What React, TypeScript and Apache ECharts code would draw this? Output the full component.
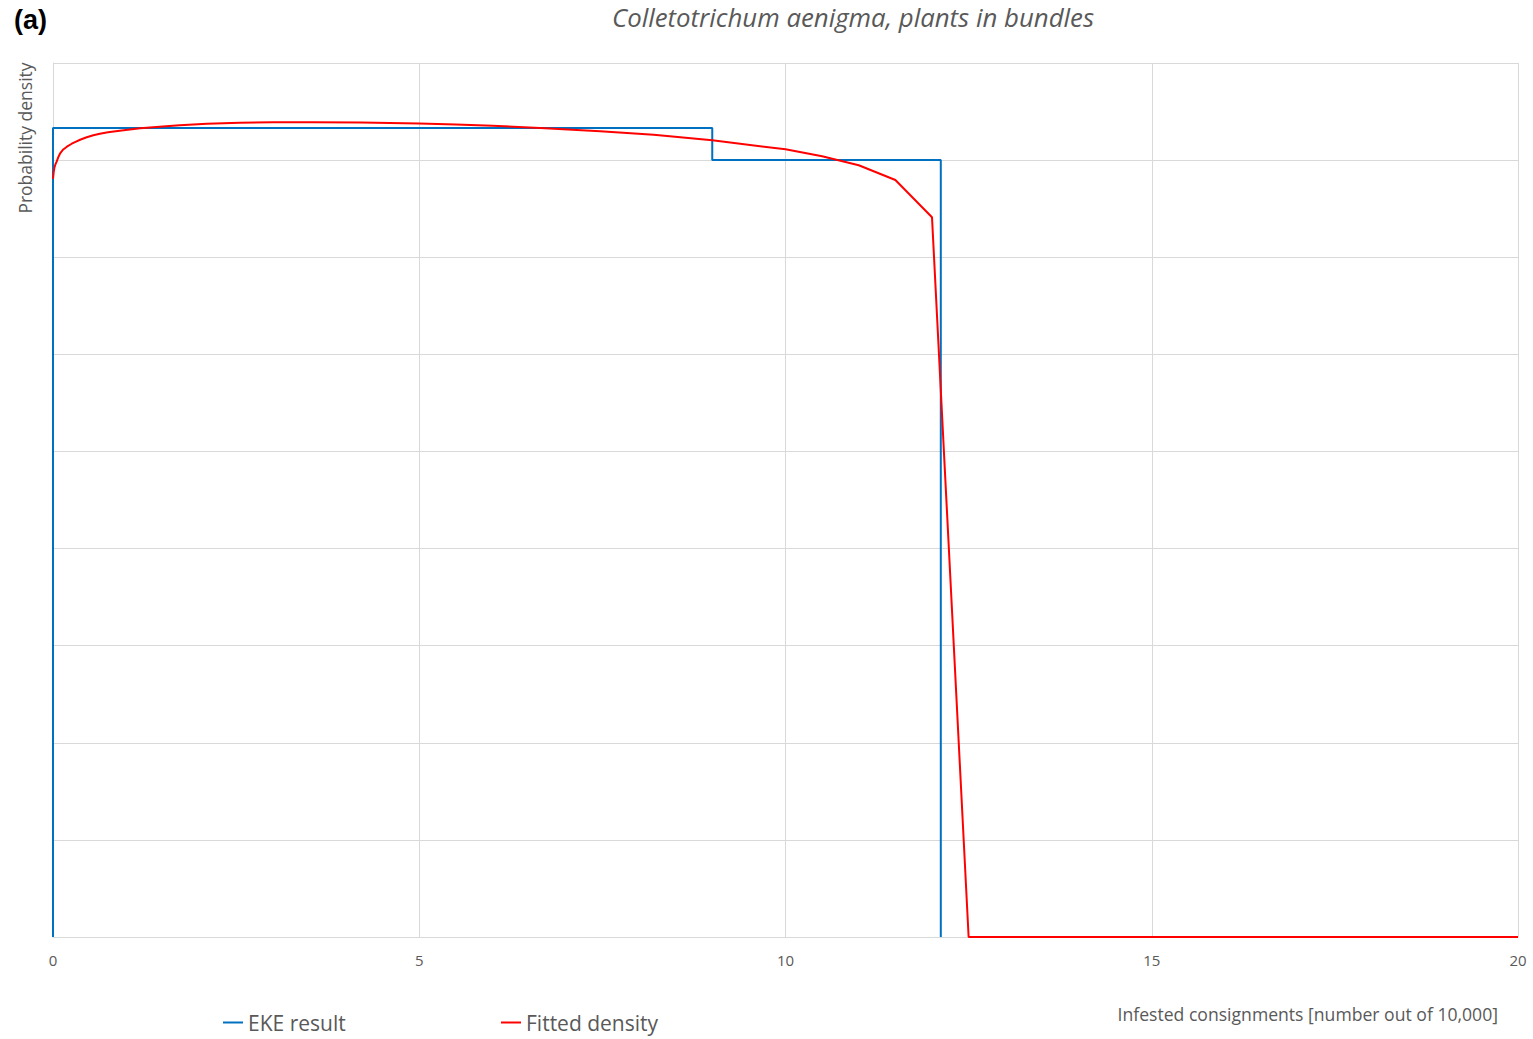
import React, { useEffect, useRef } from "react";
import * as echarts from "echarts";

const titleText = "Colletotrichum aenigma, plants in bundles";
const panelLabel = "(a)";
const yAxisName = "Probability density";
const xAxisName = "Infested consignments [number out of 10,000]";
const seriesNames = ["EKE result", "Fitted density"];

// EKE result step function: [x, density]
const ekeX = [0, 0, 9, 9, 12.12, 12.12];
const ekeY = [0, 8.33, 8.33, 8.0, 8.0, 0];

// Fitted density curve: [x, density]
const fitX = [0, 0.01, 0.02, 0.035, 0.05, 0.075, 0.1, 0.14, 0.19, 0.25, 0.3, 0.37, 0.45, 0.55, 0.64, 0.75, 0.91, 1.05, 1.19, 1.5, 1.73, 2.1, 2.55, 3.0, 3.55, 4.2, 5, 5.5, 6, 6.65, 7.47, 8.2, 9, 10, 10.5, 11, 11.5, 12, 12.5, 20];
const fitY = [7.806, 7.88, 7.925, 7.96, 7.984, 8.035, 8.073, 8.11, 8.138, 8.166, 8.186, 8.21, 8.233, 8.256, 8.272, 8.286, 8.302, 8.315, 8.327, 8.347, 8.36, 8.374, 8.384, 8.389, 8.391, 8.387, 8.376, 8.366, 8.354, 8.331, 8.297, 8.26, 8.205, 8.111, 8.04, 7.947, 7.795, 7.411, 0, 0];

const xMin = 0;
const xMax = 20;
const xInterval = 5;
const yMin = 0;
const yMax = 9;
const yInterval = 1;

export default function App() {
  const ref = useRef<HTMLDivElement>(null);
  useEffect(() => {
    document.body.style.margin = "0";
    if (!ref.current) return;
    const chart = echarts.init(ref.current, null, { renderer: "svg" });
    const gray = "#595959";
    const font = "'Open Sans', 'Noto Sans', sans-serif";
    chart.setOption({
      animation: false,
      backgroundColor: "#ffffff",
      grid: { left: 53, right: 15, top: 63, bottom: 102, containLabel: false },
      xAxis: {
        type: "value",
        min: xMin,
        max: xMax,
        interval: xInterval,
        axisLine: { show: true, lineStyle: { color: "#d9d9d9", width: 1 } },
        axisTick: { show: false },
        axisLabel: { color: gray, fontSize: 15, fontFamily: font, margin: 15 },
        splitLine: { show: true, lineStyle: { color: "#d9d9d9", width: 1 } },
      },
      yAxis: {
        type: "value",
        min: yMin,
        max: yMax,
        interval: yInterval,
        axisLine: { show: true, lineStyle: { color: "#d9d9d9", width: 1 } },
        axisTick: { show: false },
        axisLabel: { show: false },
        splitLine: { show: true, lineStyle: { color: "#d9d9d9", width: 1 } },
      },
      legend: [
        {
          data: [seriesNames[0]],
          left: 223,
          top: 1012,
          padding: 0,
          icon: "rect",
          itemWidth: 20,
          itemHeight: 2,
          itemGap: 6,
          textStyle: { color: gray, fontSize: 21, fontFamily: font },
        },
        {
          data: [seriesNames[1]],
          left: 501,
          top: 1012,
          padding: 0,
          icon: "rect",
          itemWidth: 20,
          itemHeight: 2,
          itemGap: 6,
          textStyle: { color: gray, fontSize: 21, fontFamily: font },
        },
      ],
      graphic: [
        {
          type: "text",
          left: 14,
          top: 6,
          style: {
            text: panelLabel,
            fontSize: 27,
            fontWeight: "bold",
            fontFamily: "'Liberation Sans', Arial, sans-serif",
            fill: "#000000",
          },
        },
        {
          type: "text",
          x: 853,
          y: 17,
          style: {
            text: titleText,
            fontSize: 25.8,
            fontStyle: "italic",
            fontFamily: font,
            fill: gray,
            textAlign: "center",
            textVerticalAlign: "middle",
          },
        },
        {
          type: "text",
          x: 25,
          y: 138,
          rotation: Math.PI / 2,
          style: {
            text: yAxisName,
            fontSize: 17.5,
            fontFamily: font,
            fill: gray,
            textAlign: "center",
            textVerticalAlign: "middle",
          },
        },
        {
          type: "text",
          x: 1498,
          y: 1014,
          style: {
            text: xAxisName,
            fontSize: 17.6,
            fontFamily: font,
            fill: gray,
            textAlign: "right",
            textVerticalAlign: "middle",
          },
        },
      ],
      series: [
        {
          name: seriesNames[0],
          type: "line",
          data: ekeX.map((x, i) => [x, ekeY[i]]),
          showSymbol: false,
          symbol: "none",
          lineStyle: { color: "#0070C0", width: 2 },
          itemStyle: { color: "#0070C0" },
          z: 2,
        },
        {
          name: seriesNames[1],
          type: "line",
          data: fitX.map((x, i) => [x, fitY[i]]),
          showSymbol: false,
          symbol: "none",
          lineStyle: { color: "#FF0000", width: 2 },
          itemStyle: { color: "#FF0000" },
          z: 3,
        },
      ],
    });
    return () => chart.dispose();
  }, []);
  return <div ref={ref} style={{ width: 1533, height: 1039 }} />;
}
